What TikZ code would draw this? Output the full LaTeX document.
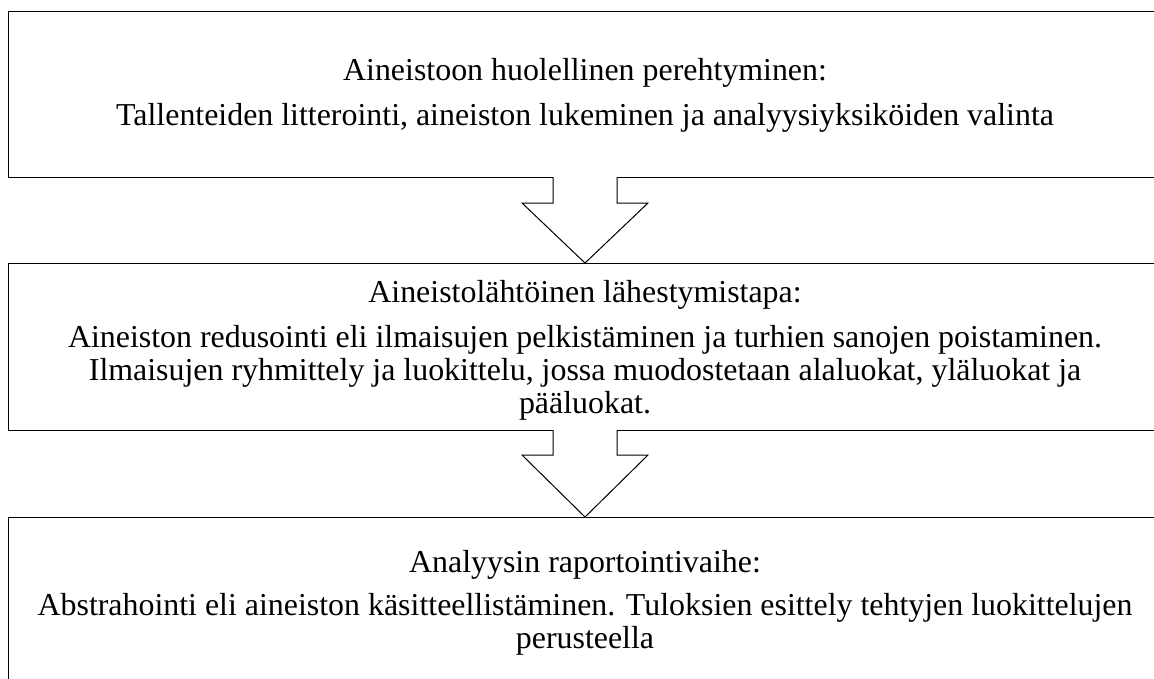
\documentclass[tikz,border=0pt]{standalone}
\usepackage{fontspec}
\setmainfont{Liberation Serif}
\usetikzlibrary{calc}
\begin{document}
\begin{tikzpicture}[x=1pt,y=-1pt,
  box/.style={draw=black,line width=1pt,minimum width=1153pt,inner sep=0pt,outer sep=0pt},
  txt/.style={anchor=base,inner sep=0pt,font=\fontsize{31.9}{36}\selectfont},
  arrowline/.style={draw=black,line width=1pt,line join=miter}]
\useasboundingbox (0,0) rectangle (1154,678);
\begin{scope}
\clip (0,0) rectangle (1154,678);
\node[box,minimum height=166pt] (b1) at (585,94) {};
\node[box,minimum height=167pt] (b2) at (585,346.5) {};
\node[box,minimum height=183pt] (b3) at (585,608.5) {};
% arrow 1
\fill[white] ($(b1.south)+(-32,-1.5)$) -- ($(b1.south)+(-32,26)$) -- ($(b1.south)+(-63,26)$) -- (b2.north) -- ($(b1.south)+(63,26)$) -- ($(b1.south)+(32,26)$) -- ($(b1.south)+(32,-1.5)$) -- cycle;
\draw[arrowline] ($(b1.south)+(-32,0)$) -- ($(b1.south)+(-32,26)$) -- ($(b1.south)+(-63,26)$) -- (b2.north) -- ($(b1.south)+(63,26)$) -- ($(b1.south)+(32,26)$) -- ($(b1.south)+(32,0)$);
% arrow 2
\fill[white] ($(b2.south)+(-32,-1.5)$) -- ($(b2.south)+(-32,25)$) -- ($(b2.south)+(-63,25)$) -- (b3.north) -- ($(b2.south)+(63,25)$) -- ($(b2.south)+(32,25)$) -- ($(b2.south)+(32,-1.5)$) -- cycle;
\draw[arrowline] ($(b2.south)+(-32,0)$) -- ($(b2.south)+(-32,25)$) -- ($(b2.south)+(-63,25)$) -- (b3.north) -- ($(b2.south)+(63,25)$) -- ($(b2.south)+(32,25)$) -- ($(b2.south)+(32,0)$);
\end{scope}
\node[txt] (t11) at (585,80) {Aineistoon huolellinen perehtyminen:};
\node[txt] (t12) at (585,125) {Tallenteiden litterointi, aineiston lukeminen ja analyysiyksiköiden valinta};
\node[txt] (t21) at (585,302) {Aineistolähtöinen lähestymistapa:};
\node[txt] (t22) at (585,347) {Aineiston redusointi eli ilmaisujen pelkistäminen ja turhien sanojen poistaminen.};
\node[txt] (t23) at (585,380) {Ilmaisujen ryhmittely ja luokittelu, jossa muodostetaan alaluokat, yläluokat ja};
\node[txt] (t24) at (585,413) {pääluokat.};
\node[txt] (t31) at (585,572) {Analyysin raportointivaihe:};
\node[txt] (t32) at (585,615) {Abstrahointi eli aineiston käsitteellistäminen. Tuloksien esittely tehtyjen luokittelujen};
\node[txt] (t33) at (585,648) {perusteella};
\end{tikzpicture}
\end{document}
